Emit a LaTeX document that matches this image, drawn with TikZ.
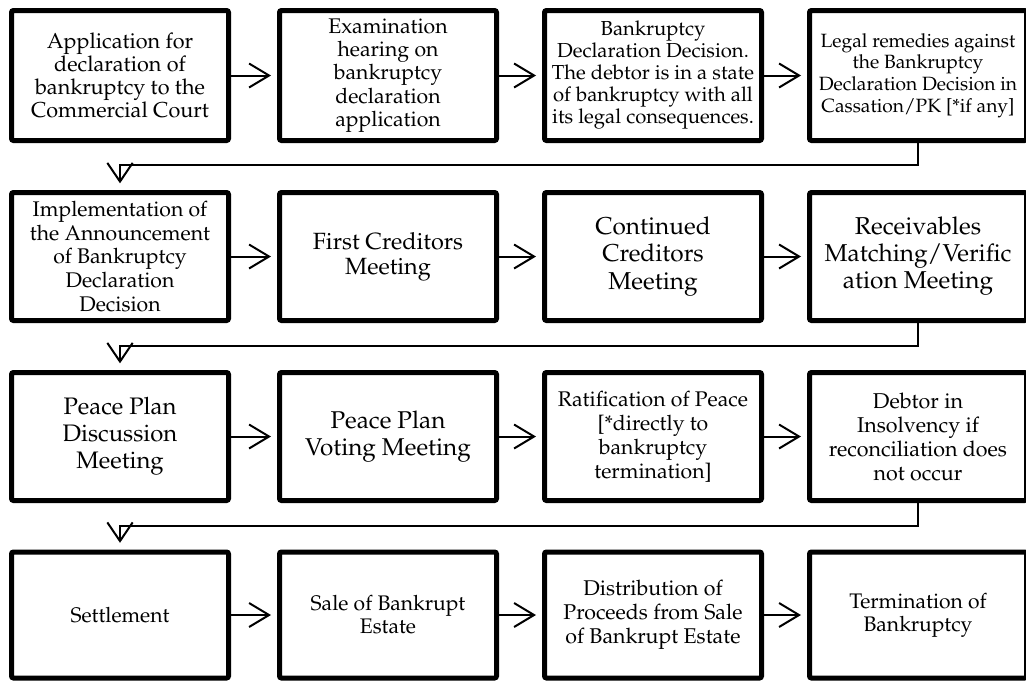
\documentclass[tikz,border=0pt]{standalone}
\usepackage[T1]{fontenc}
\renewcommand\rmdefault{ppl}
\usetikzlibrary{arrows.meta}
\begin{document}
\begin{tikzpicture}[x=0.75pt,y=-0.75pt]
\tikzset{
  box/.style={draw, line width=3.75pt, rounded corners=1.5pt, minimum width=162.75pt,
    minimum height=96pt, align=center, inner sep=0pt, fill=white},
  arr/.style={line width=1.5pt, -{Straight Barb[length=15pt,width=18pt]}, shorten >=4.5pt},
  elb/.style={line width=1.5pt, -{Straight Barb[length=14pt,width=19pt]}, shorten >=5pt},
  fs/.style 2 args={font=\fontsize{#1}{#2}\selectfont},
}
\useasboundingbox (0,0) rectangle (1026,682);
\fill[white] (0,0) rectangle (1026,682);
% row 1
\node[box,fs={16.2}{17.2},minimum height=97.5pt] (a1) at (120,75.5) {Application for\\declaration of\\bankruptcy to the\\Commercial Court};
\node[box,fs={15.9}{17.4},minimum height=97.5pt] (a2) at (388,75.5) {Examination\\hearing on\\bankruptcy\\declaration\\application};
\node[box,fs={15.2}{16.5},minimum height=97.5pt] (a3) at (653,75.5) {Bankruptcy\\Declaration Decision.\\The debtor is in a state\\of bankruptcy with all\\its legal consequences.};
\node[box,fs={14.4}{16.3},minimum height=97.5pt] (a4) at (918,75.5) {Legal remedies against\\the Bankruptcy\\Declaration Decision in\\Cassation/PK [*if any]};
% row 2
\node[box,fs={15.9}{17.8}] (b1) at (120,256.5) {Implementation of\\the Announcement\\of Bankruptcy\\Declaration\\Decision};
\node[box,fs={17.6}{18.8}] (b2) at (388,256.5) {First Creditors\\Meeting};
\node[box,fs={18.3}{20.6}] (b3) at (653,256.5) {Continued\\Creditors\\Meeting};
\node[box,fs={18.3}{20.3}] (b4) at (918,256.5) {Receivables\\Matching/Verific\\ation Meeting};
% row 3
\node[box,fs={17.9}{20.3}] (c1) at (120,436.5) {Peace Plan\\Discussion\\Meeting};
\node[box,fs={18.2}{20.3}] (c2) at (388,436.5) {Peace Plan\\Voting Meeting};
\node[box,fs={15.9}{18}] (c3) at (653,436.5) {Ratification of Peace\\{[}*directly to\\bankruptcy\\termination{]}};
\node[box,fs={16.1}{18}] (c4) at (918,436.5) {Debtor in\\Insolvency if\\reconciliation does\\not occur};
% row 4
\node[box,fs={15.8}{18},minimum height=94.5pt] (d1) at (120,615) {Settlement};
\node[box,fs={15.8}{17.3},minimum height=94.5pt] (d2) at (388,615) {Sale of Bankrupt\\Estate};
\node[box,fs={16}{18},minimum height=94.5pt] (d3) at (653,615) {Distribution of\\Proceeds from Sale\\of Bankrupt Estate};
\node[box,fs={15.8}{17.3},minimum height=94.5pt] (d4) at (918,615) {Termination of\\Bankruptcy};
% horizontal arrows
\draw[arr] (a1.east) -- (a2.west);
\draw[arr] (a2.east) -- (a3.west);
\draw[arr] (a3.east) -- (a4.west);
\draw[arr] (b1.east) -- (b2.west);
\draw[arr] (b2.east) -- (b3.west);
\draw[arr] (b3.east) -- (b4.west);
\draw[arr] (c1.east) -- (c2.west);
\draw[arr] (c2.east) -- (c3.west);
\draw[arr] (c3.east) -- (c4.west);
\draw[arr] (d1.east) -- (d2.west);
\draw[arr] (d2.east) -- (d3.west);
\draw[arr] (d3.east) -- (d4.west);
% elbow connectors
\coordinate (e1) at (120,165);
\coordinate (e2) at (120,346);
\coordinate (e3) at (120,526);
\draw[elb] (a4.south) |- (e1) -- (b1.north);
\draw[elb] (b4.south) |- (e2) -- (c1.north);
\draw[elb] (c4.south) |- (e3) -- (d1.north);
\end{tikzpicture}
\end{document}
